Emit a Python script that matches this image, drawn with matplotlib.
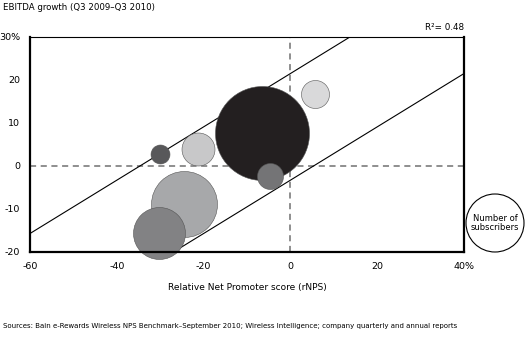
import matplotlib
matplotlib.use("Agg")
import matplotlib.pyplot as plt
from matplotlib.patches import Circle
import numpy as np

# data
rnps = [-6.5, 5.7, -30.0, -21.3, -4.7, -24.5, -30.3]
ebitda = [7.7, 16.7, 2.8, 4.0, -2.3, -8.8, -15.6]
subscribers = [2209, 196, 90, 272, 169, 1089, 676]   # relative, bubble area
shades = ["#231f20", "#d9d9da", "#58585a", "#c8c8c9", "#747476", "#a7a8aa", "#828284"]
band_slope = 0.62
band_intercepts = [21.5, -3.3]
xticks = [-60, -40, -20, 0, 20, 40]
xtick_labels = ["-60", "-40", "-20", "0", "20", "40%"]
yticks = [-20, -10, 0, 10, 20, 30]
ytick_labels = ["-20", "-10", "0", "10", "20", "30%"]

plt.rcParams["font.family"] = "DejaVu Sans"
fig = plt.figure(figsize=(5.3, 3.37), dpi=100)
ax = fig.add_axes([30/530, 1-252/337, 434/530, 215/337])

ax.axhline(0, color="#707070", lw=1.1, ls=(0, (4, 3)), zorder=1)
ax.axvline(0, color="#707070", lw=1.1, ls=(0, (4, 3)), zorder=1)
xs = np.array([-60, 40])
for b in band_intercepts:
    ax.plot(xs, band_slope*xs + b, color="k", lw=0.8, zorder=2)

# bubble radius in px ~ sqrt(subscribers); scatter s in pt^2
s = [(2*np.sqrt(v)*0.72)**2 for v in subscribers]
for x, y, si, c in zip(rnps, ebitda, s, shades):
    ax.scatter(x, y, s=si, color=c, edgecolor="#555555", lw=0.4,
               zorder=3, clip_on=False)

ax.set_xlim(-60, 40); ax.set_ylim(-20, 30)
ax.set_xticks(xticks); ax.set_xticklabels(xtick_labels, fontsize=6.8)
ax.set_yticks(yticks); ax.set_yticklabels(ytick_labels, fontsize=6.8)
ax.tick_params(length=0, pad=7)
for side in ["left", "right", "bottom"]:
    ax.spines[side].set_linewidth(1.6)
    ax.spines[side].set_zorder(5)
ax.spines["top"].set_linewidth(0.8)
ax.set_xlabel("Relative Net Promoter score (rNPS)", fontsize=6.5, labelpad=9)

fig.text(3/530, 1-8/337, "EBITDA growth (Q3 2009\u2013Q3 2010)", fontsize=6.2,
         ha="left", va="center")
fig.text(464/530, 1-28/337, "R\u00b2= 0.48", fontsize=6.3, ha="right",
         va="center")
fig.text(3/530, 1-326/337,
         "Sources: Bain e-Rewards Wireless NPS Benchmark\u2013September 2010; "
         "Wireless Intelligence; company quarterly and annual reports",
         fontsize=5.0, ha="left", va="center")

# subscribers legend bubble
legend = Circle((495, 337-223), 29, transform=None, facecolor="white",
                edgecolor="k", lw=0.8)
fig.patches.append(legend)
fig.text(495/530, 1-223/337, "Number of\nsubscribers", fontsize=6,
         ha="center", va="center", linespacing=1.1)

fig.savefig("out.png", dpi=100)
